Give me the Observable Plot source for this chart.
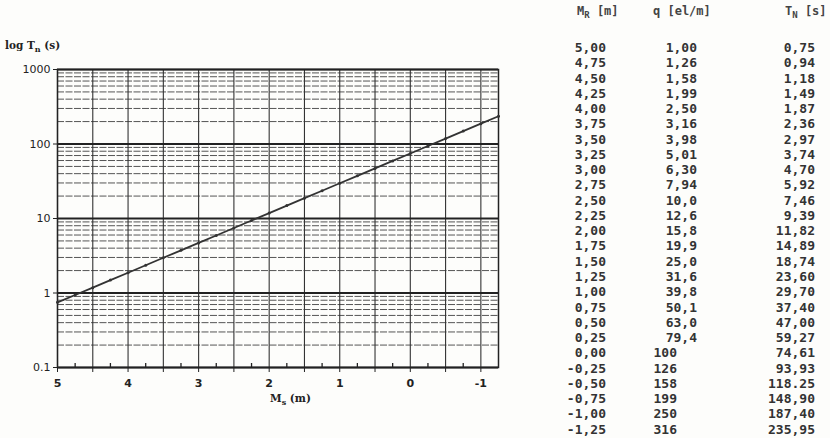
<!DOCTYPE html>
<html><head><meta charset="utf-8">
<script src="https://cdn.jsdelivr.net/npm/d3@7"></script>
<script src="https://cdn.jsdelivr.net/npm/@observablehq/plot@0.6"></script>
<style>
body{margin:0;background:#fdfdfb;}
#wrap{position:relative;width:830px;height:438px;overflow:hidden;background:#fdfdfb;}
#wrap svg{position:absolute;left:0;top:0;}
.col{position:absolute;top:0;font-family:"DejaVu Sans Mono",monospace;font-weight:bold;font-size:13px;color:#333;text-align:right;}
.col div{height:15.28px;line-height:15.28px;white-space:nowrap;}
.hdr{position:absolute;top:4px;font-family:"DejaVu Sans Mono",monospace;font-weight:bold;font-size:12px;color:#444;white-space:nowrap;}
.hdr sub{font-size:9px;vertical-align:-3px;line-height:0;}
</style></head><body><div id="wrap"></div>
<script>
// Table / series values (as printed)
const mR = ["5,00","4,75","4,50","4,25","4,00","3,75","3,50","3,25","3,00","2,75","2,50","2,25","2,00","1,75","1,50","1,25","1,00","0,75","0,50","0,25","0,00","-0,25","-0,50","-0,75","-1,00","-1,25"];
const q = ["1,00","1,26","1,58","1,99","2,50","3,16","3,98","5,01","6,30","7,94","10,0","12,6","15,8","19,9","25,0","31,6","39,8","50,1","63,0","79,4","100","126","158","199","250","316"];
const tN = ["0,75","0,94","1,18","1,49","1,87","2,36","2,97","3,74","4,70","5,92","7,46","9,39","11,82","14,89","18,74","23,60","29,70","37,40","47,00","59,27","74,61","93,93","118.25","148,90","187,40","235,95"];

// Axis ticks
const xTickLabels = [5, 4, 3, 2, 1, 0, -1];
const xGrid = [5, 4.5, 4, 3.5, 3, 2.5, 2, 1.5, 1, 0.5, 0, -0.5, -1];
const xMinorTicks = [4.75, 4.25, 3.75, 3.25, 2.75, 2.25, 1.75, 1.25, 0.75, 0.25, -0.25, -0.75];
const yDecades = [0.1, 1, 10, 100, 1000];
const yMinorSteps = [2, 3, 4, 5, 6, 7, 8, 9];

const num = s => +s.replace(",", ".");
const rows = mR.map((m, i) => ({m: num(m), t: num(tN[i])}));
const yMinor = yDecades.slice(0, -1).flatMap(d => yMinorSteps.map(k => +(d * k).toPrecision(3)));

const chart = Plot.plot({
  width: 830, height: 438,
  marginLeft: 57, marginRight: 332, marginTop: 69, marginBottom: 71,
  style: {background: "transparent", fontFamily: "DejaVu Sans", fontSize: "11px", color: "#222"},
  x: {domain: [5, -1.25], label: null},
  y: {type: "log", domain: [0.1, 1000], label: null},
  marks: [
    Plot.ruleY(yMinor, {stroke: "#555", strokeWidth: 1, strokeDasharray: "7,1.5"}),
    Plot.ruleX(xGrid, {stroke: "#333", strokeWidth: 1.1}),
    Plot.ruleY(yDecades, {stroke: "#222", strokeWidth: 2}),
    Plot.frame({stroke: "#222", strokeWidth: 1.5}),
    Plot.axisY({ticks: yDecades, tickSize: 4, tickPadding: 3, tickFormat: d => String(d), label: null}),
    Plot.axisX({ticks: xGrid, tickSize: 5, tickFormat: () => "", label: null}),
    Plot.axisX({ticks: xMinorTicks, tickSize: 4, dy: -4, strokeWidth: 1.3, tickFormat: () => "", label: null}),
    Plot.axisX({ticks: xTickLabels, tickSize: 0, tickPadding: 12, tickFormat: d => String(d), fontWeight: "bold", label: null}),
    Plot.line(rows, {x: "m", y: "t", stroke: "#333", strokeWidth: 1.8}),
    Plot.dot(rows, {x: "m", y: "t", r: 1.5, fill: "#333"})
  ]
});

const wrap = document.getElementById("wrap");
wrap.appendChild(chart);

// Axis titles with subscripts
const svg = d3.select(chart);
const xs = chart.scale("x"), ys = chart.scale("y");
const xt = svg.append("text")
  .attr("x", (xs.range[0] + xs.range[1]) / 2 + 13).attr("y", ys.range[0] + 35)
  .attr("text-anchor", "middle").attr("font-family", "DejaVu Serif").attr("font-weight", "bold")
  .attr("font-size", 10.5).attr("fill", "#222");
xt.append("tspan").text("M");
xt.append("tspan").attr("font-size", 8).attr("dy", 3).text("s");
xt.append("tspan").attr("dy", -3).text(" (m)");
const yt = svg.append("text")
  .attr("x", 5).attr("y", ys.range[1] - 20)
  .attr("text-anchor", "start").attr("font-family", "DejaVu Serif").attr("font-weight", "bold")
  .attr("font-size", 10.5).attr("fill", "#222");
yt.append("tspan").text("log T");
yt.append("tspan").attr("font-size", 8).attr("dy", 3).text("n");
yt.append("tspan").attr("dy", -3).text(" (s)");

// Table
const headers = [
  {html: "M<sub>R</sub> [m]", left: 577},
  {html: "q [el/m]", left: 653},
  {html: "T<sub>N</sub> [s]", left: 785}
];
headers.forEach(h => {
  const d = document.createElement("div");
  d.className = "hdr"; d.style.left = h.left + "px"; d.innerHTML = h.html;
  wrap.appendChild(d);
});
const cols = [
  {vals: mR, left: 545, width: 61, pad: s => 0},
  {vals: q, left: 630, width: 67, pad: s => s.includes(",") ? 0 : 20},
  {vals: tN, left: 747, width: 68, pad: s => 0}
];
cols.forEach(c => {
  const d = document.createElement("div");
  d.className = "col";
  d.style.left = c.left + "px"; d.style.width = c.width + "px"; d.style.top = "40px";
  c.vals.forEach(v => {
    const r = document.createElement("div");
    r.textContent = v; r.style.paddingRight = c.pad(v) + "px";
    d.appendChild(r);
  });
  wrap.appendChild(d);
});
</script></body></html>
